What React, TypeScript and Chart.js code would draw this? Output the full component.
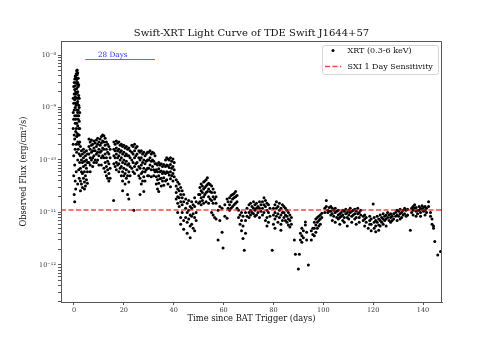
import React, { useEffect, useRef } from 'react';
import { Chart, registerables } from 'chart.js';

Chart.register(...registerables);

const FONT = 'DejaVu Serif';

// ---- axis / annotation values ----
const xTickValues = [0, 20, 40, 60, 80, 100, 120, 140];
const yDecadeExponents = [-13, -12, -11, -10, -9, -8];
const yMinorMultipliers = [2, 3, 4, 5, 6, 7, 8, 9];
const dayRange = [-5.2, 147.6];
const fluxRange = [1.97e-13, 1.85e-8];
const sxiSensitivity = 1.12e-11;
const spanDays = [4.5, 32.5];
const spanFlux = 8.2e-9;
const spanLabel = '28 Days';
const spanLabelPos = [9.6, 9.2e-9];

// ---- XRT observations: [day, fluxes (erg/cm^2/s) observed that day] ----
const flarePhase: [number, number[]][] = [
  [-0.3, [1.5e-9, 8e-10, 4e-10, 2e-10]],
  [-0.1, [2.5e-9, 1.2e-9, 6e-10, 1.2e-10, 5e-11]],
  [0.1, [3e-9, 1.8e-9, 9e-10, 3e-10, 2.2e-11]],
  [0.3, [3.5e-9, 2.2e-9, 1.4e-9, 7e-10, 2.5e-10, 8e-11, 1.6e-11]],
  [0.5, [4e-9, 2.6e-9, 1.6e-9, 1e-9, 5e-10, 1.6e-10, 4e-11]],
  [0.7, [3.8e-9, 2e-9, 1.2e-9, 6e-10, 3.5e-10, 2.8e-11]],
  [0.9, [4.4e-9, 3e-9, 1.8e-9, 1.1e-9, 7e-10, 4e-10, 2e-10, 6e-11]],
  [1.1, [5e-9, 3.4e-9, 2.3e-9, 1.5e-9, 9e-10, 5e-10, 2.8e-10, 1.4e-10]],
  [1.3, [5.2e-9, 4.2e-9, 2.8e-9, 1.9e-9, 1.2e-9, 7e-10, 3.2e-10]],
  [1.5, [4.6e-9, 3e-9, 2e-9, 1.3e-9, 8e-10, 4.5e-10, 2.2e-10, 1e-10, 3.5e-11]],
  [1.7, [3.6e-9, 2.5e-9, 1.5e-9, 9e-10, 6e-10, 3e-10, 1.6e-10]],
  [1.9, [2.7e-9, 1.7e-9, 1.1e-9, 7e-10, 4e-10, 2e-10, 6.5e-11]],
  [2.1, [1.5e-9, 1e-9, 5.5e-10, 3e-10, 1.3e-10, 4.5e-11]],
  [2.3, [8e-10, 4e-10, 2.2e-10, 9e-11]],
];

const earlyPlateau: [number, number[]][] = [
  [2.6, [1.8e-10, 1.2e-10, 7e-11, 4e-11, 2.6e-11]],
  [3.0, [1.5e-10, 1e-10, 6e-11, 3.5e-11]],
  [3.4, [1.3e-10, 9e-11, 5.5e-11, 3e-11]],
  [3.8, [1.6e-10, 1.1e-10, 7.5e-11, 4.5e-11]],
  [4.2, [1.4e-10, 9.5e-11, 6e-11, 3.8e-11, 2.8e-11]],
  [4.6, [1.2e-10, 8e-11, 5e-11, 3.2e-11]],
  [5.0, [1.5e-10, 1e-10, 7e-11, 4.2e-11]],
  [5.4, [1.3e-10, 9e-11, 6e-11, 3.6e-11]],
  [6.0, [2.5e-10, 1.8e-10, 1.3e-10, 9e-11]],
  [6.5, [2.2e-10, 1.6e-10, 1.1e-10, 8e-11, 6e-11]],
  [7.0, [2.4e-10, 1.9e-10, 1.4e-10, 1e-10]],
  [7.5, [2e-10, 1.5e-10, 1.1e-10, 7.5e-11]],
  [8.0, [2.3e-10, 1.7e-10, 1.2e-10, 9e-11]],
  [8.5, [2.1e-10, 1.5e-10, 1e-10]],
  [9.0, [2.4e-10, 1.8e-10, 1.3e-10, 9e-11]],
  [9.5, [2.6e-10, 2e-10, 1.4e-10, 1e-10]],
  [10.0, [2.2e-10, 1.6e-10, 1.2e-10, 8e-11]],
  [10.5, [2.5e-10, 1.9e-10, 1.4e-10]],
  [11.0, [2.8e-10, 2.1e-10, 1.5e-10, 1.1e-10, 8e-11]],
  [11.5, [3e-10, 2.3e-10, 1.7e-10, 1.2e-10]],
  [12.0, [2.9e-10, 2.2e-10, 1.6e-10, 1.1e-10, 7e-11]],
  [12.5, [2.6e-10, 1.9e-10, 1.3e-10, 9e-11, 6e-11]],
  [13.0, [2.2e-10, 1.6e-10, 1.1e-10, 7.5e-11, 5e-11]],
  [13.5, [2e-10, 1.4e-10, 9.5e-11, 6.5e-11, 4.5e-11]],
  [14.0, [1.8e-10, 1.3e-10, 8.5e-11, 5.5e-11, 4e-11]],
  [14.5, [1.6e-10, 1.1e-10, 7e-11, 4.5e-11]],
  [15.9, [1.7e-11]],
  [16.0, [2.2e-10, 1.6e-10, 1.2e-10, 8.5e-11]],
  [16.5, [2e-10, 1.5e-10, 1.1e-10, 7.5e-11]],
  [17.0, [2.3e-10, 1.7e-10, 1.3e-10, 9e-11, 6.5e-11]],
  [17.5, [2.1e-10, 1.5e-10, 1.1e-10, 8e-11]],
  [18.0, [2.2e-10, 1.6e-10, 1.2e-10, 8.5e-11, 6e-11]],
  [18.5, [1.9e-10, 1.4e-10, 1e-10, 7e-11]],
  [19.0, [2e-10, 1.5e-10, 1.1e-10, 7.5e-11, 5e-11]],
  [19.5, [1.8e-10, 1.3e-10, 9e-11, 6e-11, 4e-11, 2.6e-11]],
  [20.0, [1.9e-10, 1.4e-10, 1e-10, 7e-11, 5e-11]],
  [20.5, [1.7e-10, 1.2e-10, 8.5e-11, 5.5e-11, 3.5e-11]],
  [21.0, [1.8e-10, 1.3e-10, 9.5e-11, 6.5e-11, 4.5e-11]],
  [21.5, [1.6e-10, 1.2e-10, 8e-11, 5e-11, 2.2e-11]],
  [22.0, [1.7e-10, 1.2e-10, 8.5e-11, 6e-11, 3.8e-11, 1.8e-11]],
  [22.5, [1.5e-10, 1.1e-10, 7.5e-11, 5e-11]],
];

const slowDecline: [number, number[]][] = [
  [23.2, [1.9e-10, 1.4e-10, 1e-10, 7e-11]],
  [23.7, [1.8e-10, 1.3e-10, 9e-11, 6e-11]],
  [24.0, [1.1e-11]],
  [24.3, [2e-10, 1.5e-10, 1.1e-10, 7.5e-11, 5.5e-11]],
  [24.8, [1.7e-10, 1.2e-10, 8.5e-11]],
  [25.3, [1.8e-10, 1.3e-10, 9e-11, 6.5e-11]],
  [26.0, [1.5e-10, 1.1e-10, 7.5e-11, 5e-11]],
  [26.5, [1.4e-10, 1e-10, 7e-11, 4.5e-11, 2.2e-11]],
  [27.0, [1.5e-10, 1.1e-10, 8e-11, 5.5e-11, 3.5e-11]],
  [27.5, [1.3e-10, 9e-11, 6e-11, 4e-11]],
  [28.0, [1.4e-10, 1e-10, 7e-11, 4.8e-11, 2.5e-11]],
  [28.5, [1.2e-10, 8.5e-11, 6e-11, 4e-11]],
  [29.0, [1.3e-10, 9.5e-11, 6.5e-11]],
  [29.5, [1.4e-10, 1e-10, 7e-11, 5e-11]],
  [30.0, [1.4e-10, 1e-10, 7e-11, 5e-11]],
  [30.5, [1.5e-10, 1.1e-10, 8e-11]],
  [31.0, [1.3e-10, 9.5e-11, 6.5e-11, 4.8e-11]],
  [31.5, [1.4e-10, 1e-10, 7.5e-11]],
  [32.0, [1.35e-10, 9.5e-11, 6.5e-11, 5e-11]],
  [32.5, [1.2e-10, 8.5e-11, 6e-11]],
  [33.0, [8.5e-11, 6.5e-11, 4.8e-11, 3.5e-11]],
  [33.5, [8e-11, 6e-11, 4.2e-11, 2.8e-11]],
  [34.0, [9e-11, 6.8e-11, 5e-11, 3.6e-11, 2.5e-11]],
  [34.5, [8e-11, 6e-11, 4.4e-11]],
  [35.0, [8.5e-11, 6.2e-11, 4.5e-11, 3.2e-11]],
  [35.5, [7.5e-11, 5.5e-11, 4e-11]],
  [36.0, [8.2e-11, 6e-11, 4.6e-11, 3.3e-11]],
  [36.7, [1e-10, 7.5e-11, 5.5e-11, 4e-11]],
  [37.2, [1.1e-10, 8e-11, 6e-11, 4.2e-11]],
  [37.7, [1.05e-10, 7.8e-11, 5.8e-11, 3.5e-11]],
  [38.2, [1e-10, 7.2e-11, 5.2e-11]],
  [38.7, [1.1e-10, 8.2e-11, 6e-11, 4.4e-11, 3.1e-11]],
  [39.2, [9.5e-11, 7e-11, 5e-11]],
  [39.7, [1.05e-10, 7.5e-11, 5.5e-11, 4e-11]],
  [40.2, [9e-11, 6.5e-11, 4.8e-11]],
];

const dropPhase: [number, number[]][] = [
  [41.0, [4.2e-11, 3.2e-11, 2.4e-11, 1.8e-11]],
  [41.6, [3.8e-11, 2.8e-11, 2e-11, 1.5e-11, 1e-11]],
  [42.2, [3.5e-11, 2.6e-11, 1.9e-11, 1.3e-11]],
  [42.8, [3e-11, 2.2e-11, 1.6e-11, 8e-12, 6e-12]],
  [43.4, [2.6e-11, 1.9e-11, 1.4e-11, 1e-11]],
  [44.0, [2.2e-11, 1.6e-11, 7e-12, 4.8e-12]],
  [44.8, [1.8e-11, 1.2e-11, 8e-12]],
  [45.4, [1.5e-11, 1e-11, 6.5e-12, 4e-12]],
  [46.0, [1.7e-11, 1.1e-11, 7.5e-12]],
  [46.6, [1.3e-11, 9e-12, 5.5e-12, 3.3e-12]],
  [47.2, [1.6e-11, 1.2e-11, 8.5e-12, 6e-12]],
  [47.8, [1.4e-11, 9.5e-12, 5e-12]],
  [48.4, [1.9e-11, 1.3e-11, 8e-12, 4.5e-12]],
  [49.0, [1.6e-11, 1e-11, 7e-12]],
  [50.0, [2.2e-11, 1.5e-11]],
  [50.5, [3e-11, 2.2e-11, 1.6e-11]],
  [51.0, [3.5e-11, 2.6e-11, 1.9e-11, 1.4e-11]],
  [51.5, [3.2e-11, 2.4e-11, 1.7e-11]],
  [52.0, [3.8e-11, 2.8e-11, 2e-11, 1.5e-11]],
  [52.5, [4e-11, 3e-11, 2.2e-11]],
  [53.0, [4.2e-11, 3.2e-11, 2.4e-11, 1.6e-11]],
  [53.5, [4.6e-11, 3.4e-11, 2.5e-11]],
  [54.0, [3.6e-11, 2.8e-11, 2e-11, 1.5e-11]],
  [54.6, [3.4e-11, 2.5e-11, 1.8e-11]],
  [55.2, [3.2e-11, 2.4e-11, 1.7e-11, 1e-11]],
  [55.8, [2.8e-11, 2e-11, 1.5e-11, 9e-12]],
  [56.4, [2.4e-11, 1.8e-11, 8e-12]],
  [57.0, [2e-11, 1.5e-11, 7.5e-12]],
  [57.8, [3e-12, 1.1e-11]],
  [58.5, [7e-12, 1.3e-11]],
  [59.4, [4.2e-12, 1.2e-11]],
  [59.8, [2.1e-12]],
  [60.5, [8.5e-12, 1.4e-11]],
  [61.4, [7.8e-12, 1.8e-11]],
  [61.8, [1.6e-11, 1.2e-11]],
  [62.4, [1.9e-11, 1.4e-11, 1.1e-11]],
  [63.0, [2.1e-11, 1.6e-11, 1.2e-11]],
  [63.6, [2.2e-11, 1.8e-11, 1.3e-11]],
  [64.2, [2.3e-11, 1.9e-11, 1.4e-11]],
  [64.8, [2.5e-11, 2e-11, 1.5e-11]],
  [65.4, [2.1e-11, 1.6e-11, 1.2e-11]],
  [66.0, [1.1e-11, 8e-12]],
  [66.6, [9e-12, 6e-12]],
  [67.2, [1e-11, 7e-12, 4.5e-12]],
  [67.8, [8.5e-12, 5.5e-12, 3.2e-12]],
  [68.3, [1.9e-12]],
  [68.8, [1e-11, 7e-12, 4e-12]],
  [69.4, [1.2e-11, 8.5e-12]],
];

const latePlateau: [number, number[]][] = [
  [70.2, [1.4e-11, 1e-11, 8e-12]],
  [70.8, [1.5e-11, 1.1e-11, 9e-12]],
  [71.4, [1.3e-11, 1e-11]],
  [72.0, [1.6e-11, 1.2e-11, 9.5e-12]],
  [72.6, [1.4e-11, 1.1e-11, 8.5e-12]],
  [73.2, [1.5e-11, 1.2e-11, 9e-12]],
  [73.8, [1.3e-11, 1e-11]],
  [74.4, [1.6e-11, 1.2e-11, 8e-12]],
  [75.0, [1.4e-11, 1.05e-11]],
  [75.6, [1.6e-11, 1.2e-11, 9e-12]],
  [76.2, [1.9e-11, 1.4e-11, 1e-11]],
  [76.8, [1.7e-11, 1.3e-11, 7e-12]],
  [77.4, [1.5e-11, 1.1e-11, 8e-12, 5.5e-12]],
  [78.0, [1.4e-11, 1e-11, 6.5e-12]],
  [78.6, [1.2e-11, 8.5e-12]],
  [79.5, [1.9e-12]],
  [80.0, [1.2e-11, 9e-12, 6e-12]],
  [80.6, [1.4e-11, 1e-11, 7.5e-12, 5e-12]],
  [81.2, [1.6e-11, 1.2e-11, 8.5e-12]],
  [81.8, [1.3e-11, 9.5e-12, 6.5e-12]],
  [82.4, [1.5e-11, 1.1e-11, 8e-12]],
  [83.0, [1.2e-11, 9e-12, 6e-12, 4.6e-12]],
  [83.6, [1.4e-11, 1e-11, 7e-12]],
  [84.2, [1.3e-11, 1e-11, 8e-12]],
  [84.8, [1.2e-11, 9e-12, 7e-12]],
  [85.4, [1.1e-11, 8.5e-12, 6.5e-12]],
  [86.0, [1e-11, 7.5e-12, 5.8e-12]],
  [86.6, [9e-12, 7e-12, 5.3e-12]],
  [87.2, [8e-12, 6e-12]],
  [88.4, [3e-12]],
  [88.8, [1.6e-12]],
  [90.0, [8.4e-13]],
  [90.4, [1.6e-12]],
  [90.8, [4e-12, 3e-12]],
  [91.4, [5e-12, 3.6e-12, 2.7e-12]],
  [92.0, [4.5e-12, 3.3e-12]],
  [92.8, [6.6e-12, 5.8e-12]],
  [93.3, [4.2e-12, 3e-12]],
  [94.0, [1e-12]],
  [95.2, [3e-12, 4.5e-12]],
  [95.8, [5e-12, 3.8e-12]],
  [96.4, [6.5e-12, 5e-12, 3.6e-12]],
  [97.0, [7.5e-12, 5.8e-12, 4.2e-12]],
  [97.6, [8e-12, 6.5e-12, 5e-12]],
  [98.2, [8.5e-12, 7e-12, 5.5e-12]],
  [98.8, [9e-12, 7.5e-12, 6e-12]],
  [99.4, [9.7e-12, 8e-12]],
  [100.6, [1.2e-11, 1e-11]],
  [101.2, [1.7e-11, 1.3e-11]],
  [101.8, [1.1e-11, 1e-11]],
  [102.4, [1.25e-11, 1.05e-11]],
];

const finalPhase: [number, number[]][] = [
  [103.0, [1.3e-11, 1.05e-11, 9e-12]],
  [103.6, [1.2e-11, 9.5e-12, 7e-12]],
  [104.2, [1.1e-11, 8.5e-12]],
  [104.8, [1.2e-11, 1e-11, 6.5e-12]],
  [105.4, [1.05e-11, 8e-12]],
  [106.0, [1.1e-11, 9e-12, 7.5e-12]],
  [106.6, [9.5e-12, 8e-12, 6e-12]],
  [107.2, [1e-11, 8.5e-12]],
  [107.8, [1.1e-11, 9e-12, 7e-12]],
  [108.4, [1.05e-11, 8e-12, 6.5e-12]],
  [109.0, [1.15e-11, 9.5e-12]],
  [109.6, [1e-11, 8e-12, 5.5e-12]],
  [110.2, [1.1e-11, 9e-12, 7.5e-12]],
  [110.8, [1.2e-11, 1e-11]],
  [111.4, [1.05e-11, 8.5e-12, 6.5e-12]],
  [112.0, [1.1e-11, 9e-12]],
  [112.6, [1.15e-11, 9.5e-12, 7.5e-12]],
  [113.2, [1.05e-11, 8e-12, 6e-12]],
  [113.8, [1.2e-11, 9.5e-12]],
  [114.4, [1e-11, 8e-12, 6.5e-12]],
  [115.0, [1.1e-11, 9e-12]],
  [116.0, [8.5e-12, 7e-12]],
  [116.6, [9e-12, 7.5e-12, 5.5e-12]],
  [117.2, [8e-12, 6.5e-12]],
  [118.0, [5e-12]],
  [118.6, [8.5e-12, 7e-12, 6e-12]],
  [119.2, [7.5e-12, 6e-12, 4.5e-12]],
  [120.0, [1.45e-11]],
  [120.4, [8e-12, 6.5e-12, 5e-12]],
  [121.0, [7e-12, 5.5e-12, 4.3e-12]],
  [121.6, [8.5e-12, 6.5e-12]],
  [122.2, [7.5e-12, 5.8e-12, 4.6e-12]],
  [122.8, [9e-12, 7e-12, 5.5e-12]],
  [123.4, [8e-12, 6.5e-12]],
  [124.0, [9.5e-12, 7.5e-12, 6e-12]],
  [124.6, [8.5e-12, 7e-12]],
  [125.2, [9e-12, 7.5e-12, 5.5e-12]],
  [125.8, [1e-11, 8e-12]],
  [126.4, [9e-12, 7e-12]],
  [127.0, [9.5e-12, 8e-12, 6.5e-12]],
  [127.6, [8.5e-12, 7e-12]],
  [128.2, [9.5e-12, 7.5e-12]],
  [129.0, [1e-11, 8.5e-12]],
  [129.6, [1.1e-11, 9e-12, 7e-12]],
  [130.2, [1.05e-11, 8.5e-12]],
  [130.8, [1.15e-11, 9.5e-12, 7.5e-12]],
  [131.4, [1e-11, 8e-12]],
  [132.0, [1.1e-11, 9e-12]],
  [132.6, [1.2e-11, 9.5e-12]],
  [133.2, [1.1e-11, 8.5e-12]],
  [133.8, [1.15e-11, 9e-12]],
  [134.9, [4.6e-12]],
  [135.4, [1.2e-11, 1e-11]],
  [136.0, [1.3e-11, 1.1e-11, 9e-12]],
  [136.6, [1.4e-11, 1.2e-11]],
  [137.2, [1.25e-11, 1.05e-11, 8.5e-12]],
  [137.8, [1.1e-11, 9.5e-12]],
  [138.4, [1.3e-11, 1.1e-11]],
  [139.0, [1.2e-11, 1e-11, 8.5e-12]],
  [139.6, [1.35e-11, 1.15e-11]],
  [140.2, [1.25e-11, 1.05e-11]],
  [140.8, [1.3e-11, 1.1e-11, 9e-12]],
  [141.4, [1.2e-11, 1e-11]],
  [142.2, [1.6e-11, 1.3e-11]],
  [143.0, [1e-11, 8.5e-12]],
  [143.6, [7.5e-12, 6e-12]],
  [144.2, [5.5e-12, 5e-12]],
  [144.7, [2.8e-12]],
  [145.9, [1.55e-12]],
  [147.0, [1.8e-12]],
];

const SUP: Record<string, string> = {
  '-': '\u207B', '0': '\u2070', '1': '\u00B9', '2': '\u00B2', '3': '\u00B3',
  '4': '\u2074', '5': '\u2075', '6': '\u2076', '7': '\u2077', '8': '\u2078', '9': '\u2079',
};
const sup = (n: number) => String(n).split('').map((c) => SUP[c] || c).join('');

const insideLegend = {
  id: 'insideLegend',
  afterDraw(chart: any) {
    const { ctx, chartArea } = chart;
    const items = chart.data.datasets
      .filter((d: any) => d.legendOrder !== undefined)
      .sort((a: any, b: any) => a.legendOrder - b.legendOrder);
    const w = 116;
    const h = 29;
    const x0 = chartArea.right - 120;
    const y0 = chartArea.top + 4;
    ctx.save();
    ctx.fillStyle = 'rgba(255,255,255,0.8)';
    ctx.strokeStyle = 'rgba(204,204,204,0.8)';
    ctx.lineWidth = 1;
    ctx.beginPath();
    (ctx as any).roundRect(x0 + 0.5, y0 + 0.5, w, h, 2);
    ctx.fill();
    ctx.stroke();
    ctx.font = `8px "${FONT}"`;
    ctx.textBaseline = 'middle';
    ctx.textAlign = 'left';
    items.forEach((d: any, i: number) => {
      const cy = y0 + 5.5 + i * 16;
      if (d.showLine) {
        ctx.strokeStyle = d.borderColor;
        ctx.lineWidth = d.borderWidth;
        ctx.setLineDash(d.borderDash || []);
        ctx.beginPath();
        ctx.moveTo(x0 + 3, cy);
        ctx.lineTo(x0 + 19, cy);
        ctx.stroke();
        ctx.setLineDash([]);
      } else {
        ctx.fillStyle = d.backgroundColor;
        ctx.beginPath();
        ctx.arc(x0 + 11, cy, d.pointRadius, 0, Math.PI * 2);
        ctx.fill();
      }
      ctx.fillStyle = '#111';
      ctx.fillText(d.label, x0 + 25.5, cy);
    });
    ctx.restore();
  },
};

const frameAndNotes = {
  id: 'frameAndNotes',
  afterDraw(chart: any) {
    const { ctx, chartArea, scales } = chart;
    ctx.save();
    ctx.strokeStyle = '#555';
    ctx.lineWidth = 1;
    ctx.beginPath();
    ctx.moveTo(chartArea.left, chartArea.top + 0.5);
    ctx.lineTo(chartArea.right - 0.5, chartArea.top + 0.5);
    ctx.lineTo(chartArea.right - 0.5, chartArea.bottom);
    ctx.stroke();
    ctx.fillStyle = '#2b2bff';
    ctx.font = `7.3px "${FONT}"`;
    ctx.textAlign = 'left';
    ctx.textBaseline = 'alphabetic';
    ctx.fillText(
      spanLabel,
      scales.x.getPixelForValue(spanLabelPos[0]),
      scales.y.getPixelForValue(spanLabelPos[1])
    );
    ctx.restore();
  },
};

export default function App() {
  const ref = useRef<HTMLCanvasElement | null>(null);

  useEffect(() => {
    if (!ref.current) return;
    const toPoints = (groups: [number, number[]][]) =>
      groups.flatMap(([d, fs]) => fs.map((f) => ({ x: d, y: f })));
    const xrtPoints = [
      ...toPoints(flarePhase),
      ...toPoints(earlyPlateau),
      ...toPoints(slowDecline),
      ...toPoints(dropPhase),
      ...toPoints(latePlateau),
      ...toPoints(finalPhase),
    ];

    const chart = new Chart(ref.current, {
      type: 'scatter',
      data: {
        datasets: [
          {
            label: 'SXI 1 Day Sensitivity',
            data: [
              { x: dayRange[0], y: sxiSensitivity },
              { x: dayRange[1], y: sxiSensitivity },
            ],
            showLine: true,
            borderColor: 'rgba(255,0,0,0.75)',
            borderWidth: 1.5,
            borderDash: [5, 2.5],
            pointRadius: 0,
            legendOrder: 2,
          } as any,
          {
            label: '28 Days span',
            data: [
              { x: spanDays[0], y: spanFlux },
              { x: spanDays[1], y: spanFlux },
            ],
            showLine: true,
            borderColor: '#3b7dc4',
            borderWidth: 1,
            pointRadius: 0,
          } as any,
          {
            label: 'XRT (0.3-6 keV)',
            data: xrtPoints,
            backgroundColor: '#000',
            borderWidth: 0,
            pointRadius: 1.5,
            legendOrder: 1,
          } as any,
        ],
      },
      options: {
        responsive: false,
        animation: false,
        devicePixelRatio: 1,
        layout: { padding: { left: 0, top: 0, right: 49, bottom: 0 } },
        plugins: {
          legend: { display: false },
          tooltip: { enabled: false },
          title: {
            display: true,
            fullSize: false,
            text: 'Swift-XRT Light Curve of TDE Swift J1644+57',
            color: '#111',
            font: { family: FONT, size: 10, weight: 'normal' },
            padding: { top: 27, bottom: 2 },
          },
        },
        scales: {
          x: {
            type: 'linear',
            min: dayRange[0],
            max: dayRange[1],
            afterBuildTicks: (scale: any) => {
              scale.ticks = xTickValues.map((v) => ({ value: v }));
            },
            afterFit: (scale: any) => {
              scale.height = 42;
            },
            ticks: {
              autoSkip: false,
              maxRotation: 0,
              padding: 1,
              color: '#333',
              font: { family: FONT, size: 6.5 },
            },
            grid: { drawOnChartArea: false, drawTicks: true, tickLength: 3, color: '#555' },
            border: { display: true, color: '#555' },
            title: {
              display: true,
              text: 'Time since BAT Trigger (days)',
              color: '#111',
              font: { family: FONT, size: 8.3 },
              padding: { top: 0, bottom: 20 },
            },
          },
          y: {
            type: 'logarithmic',
            min: fluxRange[0],
            max: fluxRange[1],
            afterBuildTicks: (scale: any) => {
              const ticks: any[] = [];
              yDecadeExponents.forEach((e) => {
                [1, ...yMinorMultipliers].forEach((m) => {
                  const v = m * Math.pow(10, e);
                  if (v >= fluxRange[0] && v <= fluxRange[1]) ticks.push({ value: v, major: m === 1 });
                });
              });
              scale.ticks = ticks;
            },
            afterFit: (scale: any) => {
              scale.width = 61;
            },
            ticks: {
              autoSkip: false,
              padding: 2,
              color: '#333',
              font: { family: FONT, size: 6.5 },
              callback: (v: any) => {
                const l = Math.log10(Number(v));
                const r = Math.round(l);
                return Math.abs(l - r) < 1e-6 ? '10' + sup(r) : '';
              },
            },
            grid: { drawOnChartArea: false, drawTicks: true, tickLength: 3, color: '#555' },
            border: { display: true, color: '#555' },
            title: {
              display: true,
              text: 'Observed Flux (erg/cm\u00B2/s)',
              color: '#111',
              font: { family: FONT, size: 8.3 },
              padding: { top: 19, bottom: 0 },
            },
          },
        },
      } as any,
      plugins: [frameAndNotes, insideLegend],
    });
    return () => chart.destroy();
  }, []);

  return (
    <canvas
      ref={ref}
      width={491}
      height={344}
      style={{ position: 'fixed', left: 0, top: 0, display: 'block', background: '#fff' }}
    />
  );
}
